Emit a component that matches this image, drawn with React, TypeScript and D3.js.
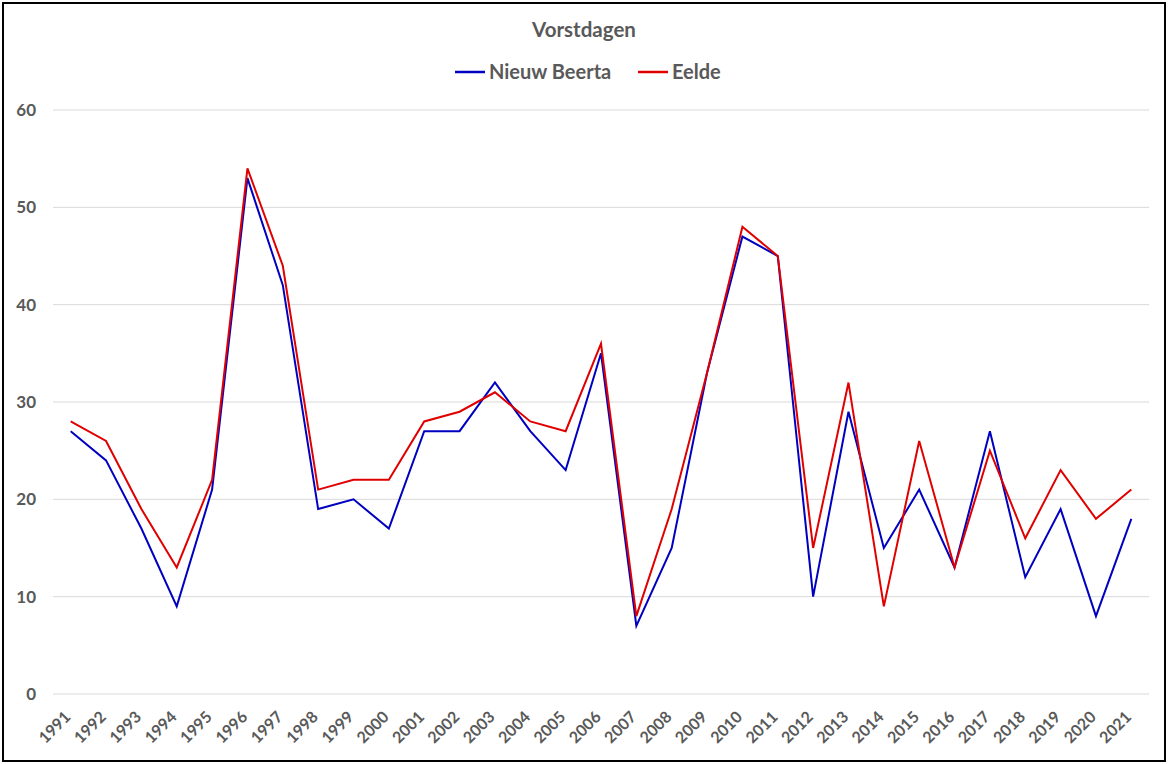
import React from "react";
import * as d3 from "d3";

const years = ["1991","1992","1993","1994","1995","1996","1997","1998","1999","2000","2001","2002","2003","2004","2005","2006","2007","2008","2009","2010","2011","2012","2013","2014","2015","2016","2017","2018","2019","2020","2021"];
const nieuwBeerta = [27,24,17,9,21,53,42,19,20,17,27,27,32,27,23,35,7,15,33,47,45,10,29,15,21,13,27,12,19,8,18];
const eelde = [28,26,19,13,22,54,44,21,22,22,28,29,31,28,27,36,8,19,33,48,45,15,32,9,26,13,25,16,23,18,21];
const yTicks = [0,10,20,30,40,50,60];
const seriesNames = ["Nieuw Beerta", "Eelde"];
const seriesColors = ["#0000C0", "#E00000"];

const W = 1168, H = 764;
const left = 53, right = 1149, top = 110, bottom = 694;
const FONT = "Lato, 'Open Sans', sans-serif";
const GREY = "#595959";

export default function App() {
  const x = d3.scaleBand<string>().domain(years).range([left, right]);
  const y = d3.scaleLinear().domain([0, 60]).range([bottom, top]);
  const line = d3.line<number>()
    .x((_, i) => (x(years[i]) as number) + x.bandwidth() / 2)
    .y((d) => y(d));
  const data = [nieuwBeerta, eelde];
  return (
    <div style={{ position: "absolute", left: 0, top: 0 }}>
      <svg width={W} height={H} style={{ display: "block", background: "#fff" }}>
        <rect x={3} y={3} width={W - 6} height={H - 6} fill="#fff" stroke="#000" strokeWidth={2} />
        <text x={584} y={37} textAnchor="middle" fontFamily={FONT} fontWeight="bold" fontSize={20.5} fill={GREY}>Vorstdagen</text>
        {/* legend */}
        <g>
          <line x1={455} x2={485} y1={72} y2={72} stroke={seriesColors[0]} strokeWidth={2.5} />
          <text x={489} y={79} fontFamily={FONT} fontWeight="bold" fontSize={20} fill={GREY}>{seriesNames[0]}</text>
          <line x1={638} x2={668} y1={72} y2={72} stroke={seriesColors[1]} strokeWidth={2.5} />
          <text x={672} y={79} fontFamily={FONT} fontWeight="bold" fontSize={20} fill={GREY}>{seriesNames[1]}</text>
        </g>
        {yTicks.map((t) => (
          <g key={t}>
            <line x1={left} x2={right} y1={y(t)} y2={y(t)} stroke="#D9D9D9" strokeWidth={1} />
            <text x={36} y={y(t) + 6} textAnchor="end" fontFamily={FONT} fontWeight="bold" fontSize={17} fill={GREY}>{t}</text>
          </g>
        ))}
        {years.map((yr) => {
          const cx = (x(yr) as number) + x.bandwidth() / 2;
          return (
            <text key={yr} transform={`translate(${cx + 1},${bottom + 24}) rotate(-45)`} textAnchor="end" fontFamily={FONT} fontWeight="bold" fontSize={16} fill={GREY}>{yr}</text>
          );
        })}
        {data.map((s, i) => (
          <path key={i} d={line(s) || ""} fill="none" stroke={seriesColors[i]} strokeWidth={2} strokeLinejoin="miter" />
        ))}
      </svg>
    </div>
  );
}
